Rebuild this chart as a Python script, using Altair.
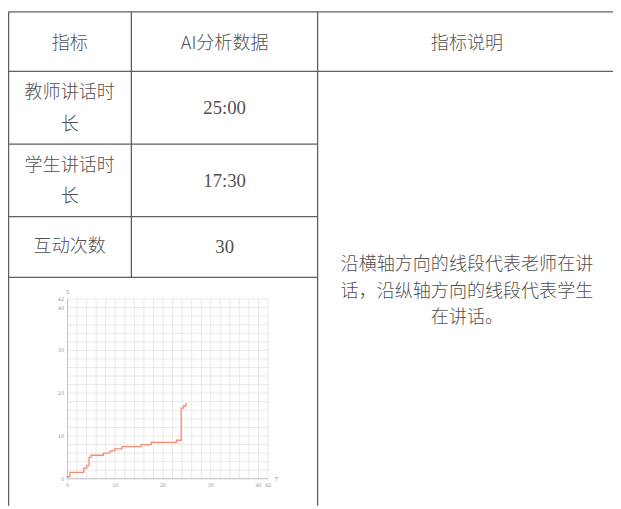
import altair as alt
import pandas as pd

# ---------------- data ----------------
header_labels = ["指标", "AI分析数据", "指标说明"]
row_labels_line1 = ["教师讲话时", "学生讲话时", "互动次数"]
row_labels_line2 = ["长", "长", ""]
row_values = ["25:00", "17:30", "30"]
note_lines = ["沿横轴方向的线段代表老师在讲", "话，沿纵轴方向的线段代表学生", "在讲话。"]

# step chart: time T (minutes) at which cumulative student time S changes
T_change = [0, 0, 0.5, 3.4, 4.0, 4.5, 4.9, 7.5, 8.9, 9.9, 11.4, 15.4, 17.5, 22.8, 23.8, 24.3, 24.8, 25.0]
S_level = [0, 0.5, 1.5, 2.5, 3.0, 5.0, 5.5, 6.0, 6.5, 7.0, 7.5, 8.0, 8.5, 9.0, 16.5, 17.0, 17.5, 17.5]
axis_ticks = [0, 10, 20, 30, 40, 42]
grid_ticks = list(range(0, 43, 2))
axis_max = 42

# ---------------- layout (pixels) ----------------
W, H = 613, 501
px_x = alt.Scale(domain=[0, W], range=[0, W], zero=False, nice=False)
px_y = alt.Scale(domain=[0, H], range=[0, H], zero=False, nice=False)

xl, xc1, xc2, xr = 0.6, 125, 313.7, 616
yt, yh, yr1, yr2, yr3, yb = 0.6, 61, 134.7, 208, 269.7, H

rules = pd.DataFrame([
    dict(x=xl, x2=xr, y=yt, y2=yt),
    dict(x=xl, x2=xr, y=yh, y2=yh),
    dict(x=xl, x2=xc2, y=yr1, y2=yr1),
    dict(x=xl, x2=xc2, y=yr2, y2=yr2),
    dict(x=xl, x2=xc2, y=yr3, y2=yr3),
    dict(x=xl, x2=xl, y=yt, y2=yb),
    dict(x=xc1, x2=xc1, y=yt, y2=yr3),
    dict(x=xc2, x2=xc2, y=yt, y2=yb),
])

cx = [62.5, 219.5, 465]
cjk_rows = []
num_rows = []
for i, t in enumerate(header_labels):
    cjk_rows.append(dict(x=cx[i], y=33, t=t))
line1_y = [83.3, 156.5, 239]
line2_y = [115.3, 188.5, 0]
val_y = [98, 172, 239]
for i in range(3):
    cjk_rows.append(dict(x=cx[0], y=line1_y[i], t=row_labels_line1[i]))
    if row_labels_line2[i]:
        cjk_rows.append(dict(x=cx[0], y=line2_y[i], t=row_labels_line2[i]))
    num_rows.append(dict(x=cx[1], y=val_y[i], t=row_values[i]))
note_y = [257, 284.5, 311]
for i, t in enumerate(note_lines):
    cjk_rows.append(dict(x=cx[2], y=note_y[i], t=t))

# chart-in-cell scales (value -> pixel)
cs_x = alt.Scale(domain=[0, axis_max], range=[60.3, 263.5], zero=False, nice=False)
cs_y = alt.Scale(domain=[0, axis_max], range=[473.7, 291.5], zero=False, nice=False)

FONT_CJK = "Noto Sans CJK SC"
FONT_NUM = "Liberation Serif, Noto Sans CJK SC"
TXT = "#505050"

table_lines = alt.Chart(rules).mark_rule(color="#5f5f5f", strokeWidth=1.3).encode(
    x=alt.X("x:Q", scale=px_x, axis=None), x2="x2:Q",
    y=alt.Y("y:Q", scale=px_y, axis=None), y2="y2:Q")

cjk_text = alt.Chart(pd.DataFrame(cjk_rows)).mark_text(
    font=FONT_CJK, fontSize=18.3, fontWeight=300, color=TXT, align="center", baseline="middle").encode(
    x=alt.X("x:Q", scale=px_x, axis=None), y=alt.Y("y:Q", scale=px_y, axis=None), text="t:N")

num_text = alt.Chart(pd.DataFrame(num_rows)).mark_text(
    font=FONT_NUM, fontSize=19, color=TXT, align="center", baseline="middle").encode(
    x=alt.X("x:Q", scale=px_x, axis=None), y=alt.Y("y:Q", scale=px_y, axis=None), text="t:N")

grid_df = pd.DataFrame({"g": grid_ticks, "lo": 0, "hi": axis_max})
vgrid = alt.Chart(grid_df).mark_rule(color="#e3e3e3", strokeWidth=0.8).encode(
    x=alt.X("g:Q", scale=cs_x, axis=None),
    y=alt.Y("lo:Q", scale=cs_y, axis=None), y2="hi:Q")
hgrid = alt.Chart(grid_df).mark_rule(color="#e3e3e3", strokeWidth=0.8).encode(
    y=alt.Y("g:Q", scale=cs_y, axis=None),
    x=alt.X("lo:Q", scale=cs_x, axis=None), x2="hi:Q")

axes_df = pd.DataFrame({"a": [0], "lo": [0], "hi": [axis_max]})
yaxis_line = alt.Chart(axes_df).mark_rule(color="#c4c4c4", strokeWidth=1.1).encode(
    x=alt.X("a:Q", scale=cs_x, axis=None),
    y=alt.Y("lo:Q", scale=cs_y, axis=None), y2="hi:Q")
xaxis_line = alt.Chart(axes_df).mark_rule(color="#c4c4c4", strokeWidth=1.1).encode(
    y=alt.Y("a:Q", scale=cs_y, axis=None),
    x=alt.X("lo:Q", scale=cs_x, axis=None), x2="hi:Q")

step_df = pd.DataFrame({"T": T_change, "S": S_level, "i": range(len(T_change))})
step = alt.Chart(step_df).mark_line(color="#f58a73", strokeWidth=1.3, interpolate="step-after").encode(
    x=alt.X("T:Q", scale=cs_x, axis=None),
    y=alt.Y("S:Q", scale=cs_y, axis=None),
    order="i:Q")

tick_df = pd.DataFrame({"v": axis_ticks, "z": 0, "lab": [str(v) for v in axis_ticks]})
xlabels = alt.Chart(tick_df).mark_text(fontSize=5, color="#999999", font="DejaVu Sans",
                                       align="center", baseline="middle", dy=6).encode(
    x=alt.X("v:Q", scale=cs_x, axis=None), y=alt.Y("z:Q", scale=cs_y, axis=None), text="lab:N")
ylabels = alt.Chart(tick_df).mark_text(fontSize=5, color="#999999", font="DejaVu Sans",
                                       align="right", baseline="middle", dx=-3.5).encode(
    y=alt.Y("v:Q", scale=cs_y, axis=None), x=alt.X("z:Q", scale=cs_x, axis=None), text="lab:N")

title_df = pd.DataFrame({"x": [0, axis_max], "y": [axis_max, 0], "lab": ["S", "T"]})
s_title = alt.Chart(title_df.iloc[[0]]).mark_text(fontSize=5.5, color="#999999", font="DejaVu Sans",
                                                  align="center", baseline="middle", dy=-7.5).encode(
    x=alt.X("x:Q", scale=cs_x, axis=None), y=alt.Y("y:Q", scale=cs_y, axis=None), text="lab:N")
t_title = alt.Chart(title_df.iloc[[1]]).mark_text(fontSize=5.5, color="#999999", font="DejaVu Sans",
                                                  align="center", baseline="middle", dx=8.5).encode(
    x=alt.X("x:Q", scale=cs_x, axis=None), y=alt.Y("y:Q", scale=cs_y, axis=None), text="lab:N")

chart = alt.layer(
    vgrid, hgrid, yaxis_line, xaxis_line, step, xlabels, ylabels, s_title, t_title,
    table_lines, cjk_text, num_text,
).resolve_scale(x="independent", y="independent").properties(
    width=W, height=H, padding=0, autosize=alt.AutoSizeParams(type="none"),
    background="white",
).configure_view(strokeWidth=0)

chart.save("out.html", embed_options={"renderer": "svg", "actions": False})
